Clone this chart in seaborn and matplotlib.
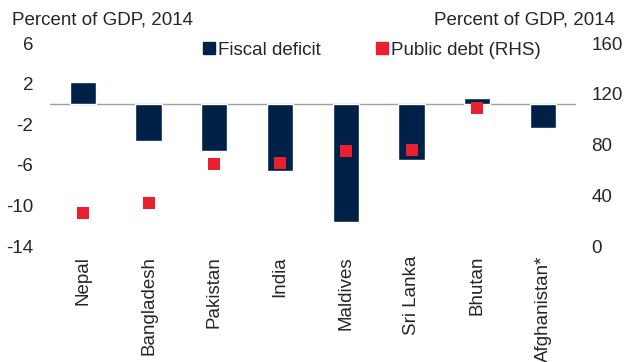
import matplotlib
matplotlib.use("Agg")
import matplotlib.pyplot as plt
from matplotlib.lines import Line2D
import numpy as np
import pandas as pd
import seaborn as sns

# values
countries = ["Nepal", "Bangladesh", "Pakistan", "India", "Maldives",
             "Sri Lanka", "Bhutan", "Afghanistan*"]
fiscal_deficit = [2.2, -3.6, -4.6, -6.6, -11.6, -5.5, 0.6, -2.4]
public_debt = [26.5, 34, 64.5, 65.5, 75, 76, 108.5, np.nan]

left_ticks = [6, 2, -2, -6, -10, -14]
right_ticks = [0, 40, 80, 120, 160]

navy = "#002147"
red = "#E8202F"
fs = 13.5

df = pd.DataFrame({"country": countries, "deficit": fiscal_deficit, "debt": public_debt})

sns.set_style("white")
plt.rcParams["font.family"] = ["Liberation Sans", "DejaVu Sans"]

fig = plt.figure(figsize=(6.24, 3.62), dpi=100)
ax = fig.add_axes([0.080, 0.320, 0.843, 0.561])

sns.barplot(data=df, x="country", y="deficit", order=countries, color=navy,
            width=0.4, saturation=1, ax=ax, zorder=2)
ax.axhline(0, color="#A0A0A0", lw=1, zorder=1)
ax.set_ylim(-14, 6)
ax.set_yticks(left_ticks)
ax.set_yticklabels([str(t) for t in left_ticks])

ax2 = ax.twinx()
sns.stripplot(data=df, x="country", y="debt", order=countries, jitter=False,
              marker="s", size=9, color=red, linewidth=0, ax=ax2, zorder=3)
ax2.set_ylim(0, 160)
ax2.set_yticks(right_ticks)
ax2.set_xlim(-0.5, 7.5)

for a in (ax, ax2):
    for s in a.spines.values():
        s.set_visible(False)
    a.set_xlabel("")
    a.set_ylabel("")
    a.tick_params(length=0, labelsize=fs)
ax.tick_params(axis="y", pad=12)
ax2.tick_params(axis="y", pad=11)
ax.tick_params(axis="x", pad=7)
plt.setp(ax.get_xticklabels(), rotation=90)

fig.text(0.019, 0.945, "Percent of GDP, 2014", fontsize=fs, ha="left", va="center")
fig.text(0.986, 0.945, "Percent of GDP, 2014", fontsize=fs, ha="right", va="center")

handles = [
    Line2D([], [], marker="s", ls="", color=navy, markersize=8.5, label="Fiscal deficit"),
    Line2D([], [], marker="s", ls="", color=red, markersize=8.5, label="Public debt (RHS)"),
]
fig.legend(handles=handles, loc="center left", bbox_to_anchor=(0.3245, 0.862), ncol=2,
           frameon=False, fontsize=fs, handletextpad=0.15, columnspacing=2.9,
           handlelength=0.7, borderpad=0, borderaxespad=0)

fig.savefig("out.png", dpi=100)
